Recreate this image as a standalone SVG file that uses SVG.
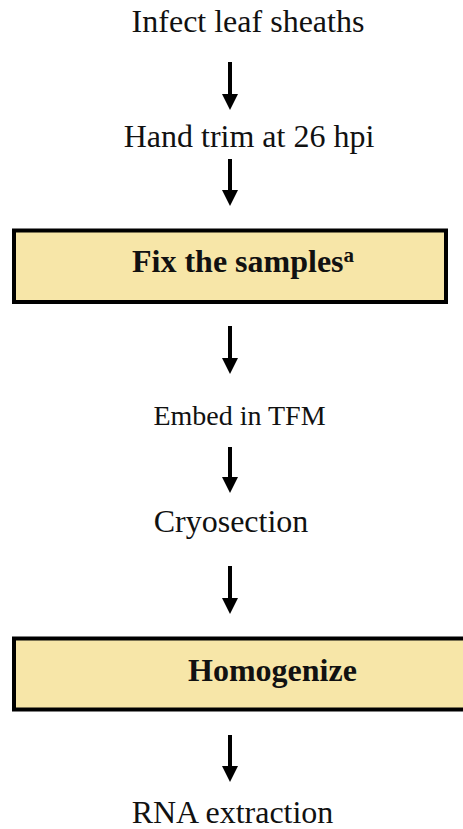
<svg xmlns="http://www.w3.org/2000/svg" width="463" height="829" viewBox="0 0 463 829">
<style>
.lbl{font-family:"Liberation Serif","Times New Roman",serif;font-size:32px;fill:#111}
.sm{font-size:28px}
.b{font-weight:bold}
.box{fill:#F7E6A8;stroke:#000;stroke-width:4}
.arr{stroke:#000;stroke-width:4;fill:none}
</style>
<defs>
<marker id="ah" markerUnits="userSpaceOnUse" markerWidth="16" markerHeight="16" viewBox="0 0 16 16" refX="0" refY="8" orient="auto">
<path d="M0,0 L16,8 L0,16 z" fill="#000"/>
</marker>
</defs>
<rect width="463" height="829" fill="#fff"/>
<g id="n1"><text class="lbl" x="248" y="32" text-anchor="middle">Infect leaf sheaths</text></g>
<g id="n2"><text class="lbl" x="249" y="147" text-anchor="middle">Hand trim at 26 hpi</text></g>
<g id="n3"><rect class="box" x="14" y="230.5" width="432" height="71.5"/><text class="lbl b" x="132" y="272">Fix the samples<tspan font-size="21" dy="-10">a</tspan></text></g>
<g id="n4"><text class="lbl sm" x="239.5" y="425" text-anchor="middle">Embed in TFM</text></g>
<g id="n5"><text class="lbl" x="231" y="532" text-anchor="middle">Cryosection</text></g>
<g id="n6"><rect class="box" x="14" y="638.5" width="460" height="71"/><text class="lbl b" x="188" y="681">Homogenize</text></g>
<g id="n7"><text class="lbl" x="232.5" y="823" text-anchor="middle">RNA extraction</text></g>
<g id="connectors">
<line class="arr" x1="230" y1="62" x2="230" y2="94" marker-end="url(#ah)"/>
<line class="arr" x1="230" y1="159" x2="230" y2="190" marker-end="url(#ah)"/>
<line class="arr" x1="230" y1="326" x2="230" y2="358" marker-end="url(#ah)"/>
<line class="arr" x1="230" y1="447" x2="230" y2="477" marker-end="url(#ah)"/>
<line class="arr" x1="230" y1="566" x2="230" y2="598" marker-end="url(#ah)"/>
<line class="arr" x1="230" y1="735" x2="230" y2="766" marker-end="url(#ah)"/>
</g>
</svg>
